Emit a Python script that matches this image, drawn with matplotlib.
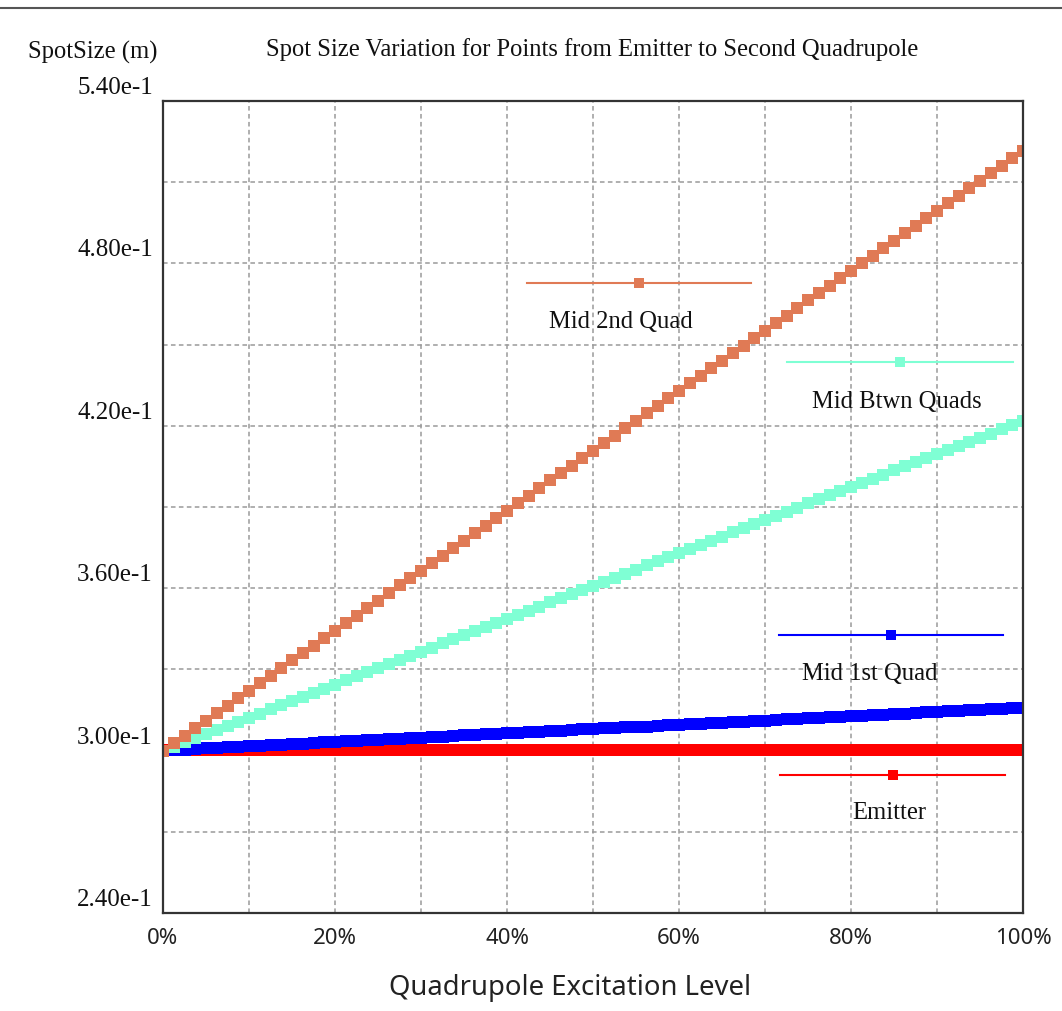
import matplotlib
matplotlib.use("Agg")
import matplotlib.pyplot as plt
from matplotlib.lines import Line2D
from matplotlib.transforms import ScaledTranslation, blended_transform_factory

# ---------------- data ----------------
excitation = [0.0, 1.25, 2.5, 3.75, 5.0, 6.25, 7.5, 8.75, 10.0, 11.25, 12.5, 13.75, 15.0,
              16.25, 17.5, 18.75, 20.0, 21.25, 22.5, 23.75, 25.0, 26.25, 27.5, 28.75, 30.0,
              31.25, 32.5, 33.75, 35.0, 36.25, 37.5, 38.75, 40.0, 41.25, 42.5, 43.75, 45.0,
              46.25, 47.5, 48.75, 50.0, 51.25, 52.5, 53.75, 55.0, 56.25, 57.5, 58.75, 60.0,
              61.25, 62.5, 63.75, 65.0, 66.25, 67.5, 68.75, 70.0, 71.25, 72.5, 73.75, 75.0,
              76.25, 77.5, 78.75, 80.0, 81.25, 82.5, 83.75, 85.0, 86.25, 87.5, 88.75, 90.0,
              91.25, 92.5, 93.75, 95.0, 96.25, 97.5, 98.75, 100.0]

emitter = [0.3003, 0.3003, 0.3003, 0.3003, 0.3003, 0.3003, 0.3003, 0.3003, 0.3003, 0.3003,
           0.3003, 0.3003, 0.3003, 0.3003, 0.3003, 0.3003, 0.3003, 0.3003, 0.3003, 0.3003,
           0.3003, 0.3003, 0.3003, 0.3003, 0.3003, 0.3003, 0.3003, 0.3003, 0.3003, 0.3003,
           0.3003, 0.3003, 0.3003, 0.3003, 0.3003, 0.3003, 0.3003, 0.3003, 0.3003, 0.3003,
           0.3003, 0.3003, 0.3003, 0.3003, 0.3003, 0.3003, 0.3003, 0.3003, 0.3003, 0.3003,
           0.3003, 0.3003, 0.3003, 0.3003, 0.3003, 0.3003, 0.3003, 0.3003, 0.3003, 0.3003,
           0.3003, 0.3003, 0.3003, 0.3003, 0.3003, 0.3003, 0.3003, 0.3003, 0.3003, 0.3003,
           0.3003, 0.3003, 0.3003, 0.3003, 0.3003, 0.3003, 0.3003, 0.3003, 0.3003, 0.3003,
           0.3003]

mid_1st_quad = [0.3000, 0.3002, 0.3004, 0.3006, 0.3008, 0.3010, 0.3012, 0.3014, 0.3016, 0.3018,
                0.3020, 0.3022, 0.3024, 0.3026, 0.3028, 0.3030, 0.3032, 0.3034, 0.3036, 0.3038,
                0.3040, 0.3042, 0.3044, 0.3046, 0.3048, 0.3050, 0.3052, 0.3054, 0.3056, 0.3058,
                0.3060, 0.3062, 0.3064, 0.3066, 0.3068, 0.3070, 0.3072, 0.3074, 0.3076, 0.3078,
                0.3080, 0.3082, 0.3084, 0.3086, 0.3087, 0.3089, 0.3091, 0.3093, 0.3095, 0.3097,
                0.3099, 0.3101, 0.3103, 0.3105, 0.3107, 0.3109, 0.3111, 0.3113, 0.3115, 0.3117,
                0.3119, 0.3121, 0.3123, 0.3125, 0.3127, 0.3129, 0.3131, 0.3133, 0.3135, 0.3137,
                0.3139, 0.3141, 0.3143, 0.3145, 0.3147, 0.3149, 0.3151, 0.3153, 0.3155, 0.3157,
                0.3159]

mid_btwn_quads = [0.3000, 0.3015, 0.3030, 0.3046, 0.3061, 0.3076, 0.3091, 0.3106, 0.3122, 0.3137,
                  0.3152, 0.3167, 0.3183, 0.3198, 0.3213, 0.3228, 0.3243, 0.3259, 0.3274, 0.3289,
                  0.3304, 0.3319, 0.3335, 0.3350, 0.3365, 0.3380, 0.3396, 0.3411, 0.3426, 0.3441,
                  0.3456, 0.3472, 0.3487, 0.3502, 0.3517, 0.3532, 0.3548, 0.3563, 0.3578, 0.3593,
                  0.3609, 0.3624, 0.3639, 0.3654, 0.3669, 0.3685, 0.3700, 0.3715, 0.3730, 0.3745,
                  0.3761, 0.3776, 0.3791, 0.3806, 0.3822, 0.3837, 0.3852, 0.3867, 0.3882, 0.3898,
                  0.3913, 0.3928, 0.3943, 0.3958, 0.3974, 0.3989, 0.4004, 0.4019, 0.4035, 0.4050,
                  0.4065, 0.4080, 0.4095, 0.4111, 0.4126, 0.4141, 0.4156, 0.4171, 0.4187, 0.4202,
                  0.4217]

mid_2nd_quad = [0.3000, 0.3028, 0.3055, 0.3083, 0.3111, 0.3139, 0.3166, 0.3194, 0.3222, 0.3249,
                0.3277, 0.3305, 0.3333, 0.3360, 0.3388, 0.3416, 0.3443, 0.3471, 0.3499, 0.3527,
                0.3554, 0.3582, 0.3610, 0.3637, 0.3665, 0.3693, 0.3720, 0.3748, 0.3776, 0.3804,
                0.3831, 0.3859, 0.3887, 0.3914, 0.3942, 0.3970, 0.3998, 0.4025, 0.4053, 0.4081,
                0.4108, 0.4136, 0.4164, 0.4192, 0.4219, 0.4247, 0.4275, 0.4302, 0.4330, 0.4358,
                0.4385, 0.4413, 0.4441, 0.4469, 0.4496, 0.4524, 0.4552, 0.4579, 0.4607, 0.4635,
                0.4663, 0.4690, 0.4718, 0.4746, 0.4773, 0.4801, 0.4829, 0.4857, 0.4884, 0.4912,
                0.4940, 0.4967, 0.4995, 0.5023, 0.5050, 0.5078, 0.5106, 0.5134, 0.5161, 0.5189,
                0.5217]

series_names = ["Emitter", "Mid 1st Quad", "Mid Btwn Quads", "Mid 2nd Quad"]
series_values = [emitter, mid_1st_quad, mid_btwn_quads, mid_2nd_quad]
series_colors = ["#FF0000", "#0000FF", "#7FFFD4", "#E07A55"]

x_ticks = [0, 20, 40, 60, 80, 100]
x_tick_labels = ["0%", "20%", "40%", "60%", "80%", "100%"]
x_minor = [10, 30, 50, 70, 90]
y_ticks = [0.24, 0.30, 0.36, 0.42, 0.48, 0.54]
y_tick_labels = ["2.40e-1", "3.00e-1", "3.60e-1", "4.20e-1", "4.80e-1", "5.40e-1"]
y_minor = [0.27, 0.33, 0.39, 0.45, 0.51]

# legend placements (axes fraction): line x0, x1, y, marker x, label x, label y
legend_layout = {
    "Mid 2nd Quad":   (0.423, 0.684, 0.776, 0.553, 0.532, 0.728),
    "Mid Btwn Quads": (0.726, 0.988, 0.679, 0.857, 0.853, 0.629),
    "Mid 1st Quad":   (0.716, 0.977, 0.342, 0.847, 0.822, 0.294),
    "Emitter":        (0.717, 0.979, 0.170, 0.849, 0.845, 0.123),
}

SERIF = ["Liberation Serif", "DejaVu Serif"]
SANS = ["Noto Sans", "DejaVu Sans"]
SERIF_SIZE = 17.7

W, H, DPI = 1062, 1011, 100
fig = plt.figure(figsize=(W / DPI, H / DPI), dpi=DPI)
fig.patch.set_facecolor("white")

ax = fig.add_axes([163 / W, 1 - 913 / H, 860 / W, 812 / H])
ax.set_xlim(0, 100)
ax.set_ylim(0.24, 0.54)

# grid
ax.set_xticks(x_ticks)
ax.set_xticks(x_minor, minor=True)
ax.set_yticks(y_ticks)
ax.set_yticks(y_minor, minor=True)
ax.grid(True, which="both", color="#9A9A9A", linestyle=(0, (3, 2.2)), linewidth=1.1)
ax.set_axisbelow(True)
ax.tick_params(which="both", length=0)
ax.set_xticklabels(x_tick_labels, fontfamily=SANS, fontsize=16, color="#222222")
ax.tick_params(axis="x", pad=11)
ax.set_yticklabels([])

for sp in ax.spines.values():
    sp.set_color("#333333")
    sp.set_linewidth(1.6)

# y tick labels, drawn slightly above their values as in the reference
ytrans = blended_transform_factory(ax.transAxes, ax.transData) + \
    ScaledTranslation(0, 13 / DPI, fig.dpi_scale_trans)
for yv, lab in zip(y_ticks, y_tick_labels):
    ax.text(-10 / 860, yv, lab, transform=ytrans, ha="right", va="center",
            fontfamily=SERIF, fontsize=18, color="#111111")

# series
ms = 12.5 * 72 / DPI
for name, vals, col in zip(series_names, series_values, series_colors):
    ax.plot(excitation, vals, linestyle="-", linewidth=2, color=col,
            marker="s", markersize=ms, markeredgewidth=0, markerfacecolor=col)

# legend entries
for name, col in zip(series_names, series_colors):
    x0, x1, yl, xm, xt, yt = legend_layout[name]
    ax.add_line(Line2D([x0, x1], [yl, yl], transform=ax.transAxes, color=col,
                       linewidth=1.5))
    ax.add_line(Line2D([xm], [yl], transform=ax.transAxes, color=col, marker="s",
                       markersize=10 * 72 / DPI, markeredgewidth=0, linestyle="none"))
    ax.text(xt, yt, name, transform=ax.transAxes, ha="center", va="center",
            fontfamily=SERIF, fontsize=SERIF_SIZE, color="#111111")

# titles
fig.text(592 / W, 1 - 50 / H, "Spot Size Variation for Points from Emitter to Second Quadrupole",
         ha="center", va="center", fontfamily=SERIF, fontsize=SERIF_SIZE, color="#111111")
fig.text(158 / W, 1 - 52 / H, "SpotSize (m)", ha="right", va="center",
         fontfamily=SERIF, fontsize=SERIF_SIZE, color="#111111")
fig.text(570 / W, 1 - 988 / H, "Quadrupole Excitation Level", ha="center", va="center",
         fontfamily=SANS, fontsize=19.8, color="#222222")

# top border line
fig.add_artist(Line2D([0, 1], [1 - 7.5 / H, 1 - 7.5 / H], transform=fig.transFigure,
                      color="#555555", linewidth=1.5))

fig.savefig("out.png", dpi=DPI)
